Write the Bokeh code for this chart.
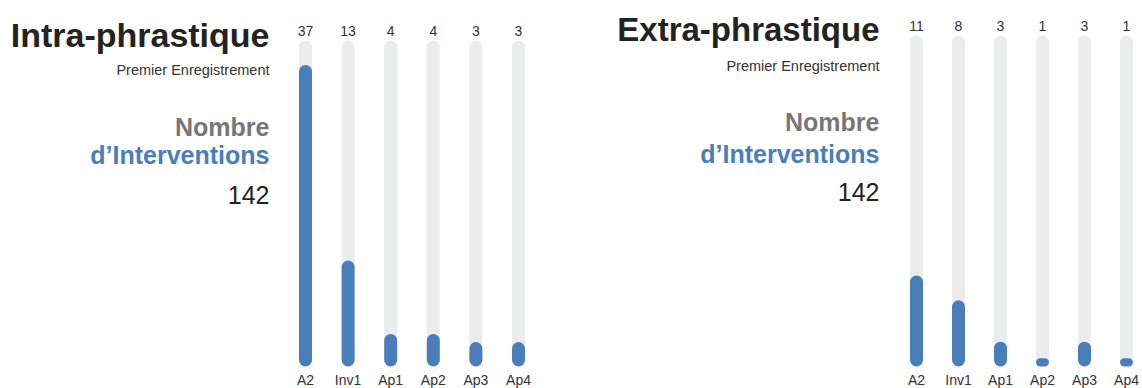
from bokeh.plotting import figure
from bokeh.layouts import row
from bokeh.models import Range1d, Label, ColumnDataSource
from bokeh.core.properties import value
from bokeh.embed import file_html
from bokeh.resources import INLINE

categories = ["A2", "Inv1", "Ap1", "Ap2", "Ap3", "Ap4"]
intra_values = [37, 13, 4, 4, 3, 3]
extra_values = [11, 8, 3, 1, 3, 1]
scale_max = 40
panel_titles = ["Intra-phrastique", "Extra-phrastique"]
subtitle = "Premier Enregistrement"
label_line1 = "Nombre"
label_line2 = "d\u2019Interventions"
total_label = "142"

FONT = "Liberation Sans"
BLUE = "#4a7ebb"
GRAY_BG = "#ebecec"
DARK = "#232323"
H = 388


def make_panel(title, title_size, values, width, bar0_px, step_px, top_px, text_right,
               baselines, val_off):
    bottom_px = 366
    ppu = (bottom_px - top_px) / scale_max
    y0 = -(H - bottom_px) / ppu
    x0 = -bar0_px / step_px
    p = figure(width=width, height=H, output_backend="svg", toolbar_location=None,
               x_range=Range1d(x0, x0 + width / step_px),
               y_range=Range1d(y0, y0 + H / ppu),
               min_border=0, outline_line_color=None)
    p.axis.visible = False
    p.grid.visible = False
    idx = list(range(len(categories)))
    src = ColumnDataSource(dict(x=idx, v=values, bg=[scale_max] * len(values),
                                zero=[0] * len(values), cat=categories,
                                lab=[str(v) for v in values]))
    w = 13 / step_px
    p.vbar(x="x", top="bg", bottom=0, width=w, source=src, fill_color=GRAY_BG,
           line_color=None, border_radius=7)
    p.vbar(x="x", top="v", bottom=0, width=w, source=src, fill_color=BLUE,
           line_color=None, border_radius=7)
    p.text(x="x", y="bg", text="lab", source=src, text_align="center",
           text_baseline="alphabetic", y_offset=val_off, text_font=value(FONT),
           text_font_size="14px", text_color="#333333")
    p.text(x="x", y="zero", text="cat", source=src, text_align="center",
           text_baseline="alphabetic", y_offset=13, text_font=value(FONT),
           text_font_size="14px", text_color="#333333")

    specs = [
        (title, baselines[0], title_size, "bold", DARK),
        (subtitle, baselines[1], "14.5px", "normal", "#333333"),
        (label_line1, baselines[2], "25px", "bold", "#777777"),
        (label_line2, baselines[3], "25px", "bold", BLUE),
        (total_label, baselines[4], "25px", "normal", DARK),
    ]
    for txt, b, fs, style, col in specs:
        p.add_layout(Label(x=text_right, y=H - b, x_units="screen", y_units="screen",
                           text=txt, text_align="right", text_baseline="alphabetic",
                           text_font=FONT, text_font_size=fs, text_font_style=style,
                           text_color=col))
    return p


p1 = make_panel(panel_titles[0], "34px", intra_values, 608, 305, 42.6, 40, 269,
                [34.5, 69.7, 126, 154.3, 194], -10)
p2 = make_panel(panel_titles[1], "33px", extra_values, 534, 916 - 608, 42.0, 35, 879 - 608,
                [29, 65.7, 121.7, 153.3, 191.7], -9.5)

layout = row(p1, p2)
open("out.html", "w").write(file_html(layout, INLINE))
